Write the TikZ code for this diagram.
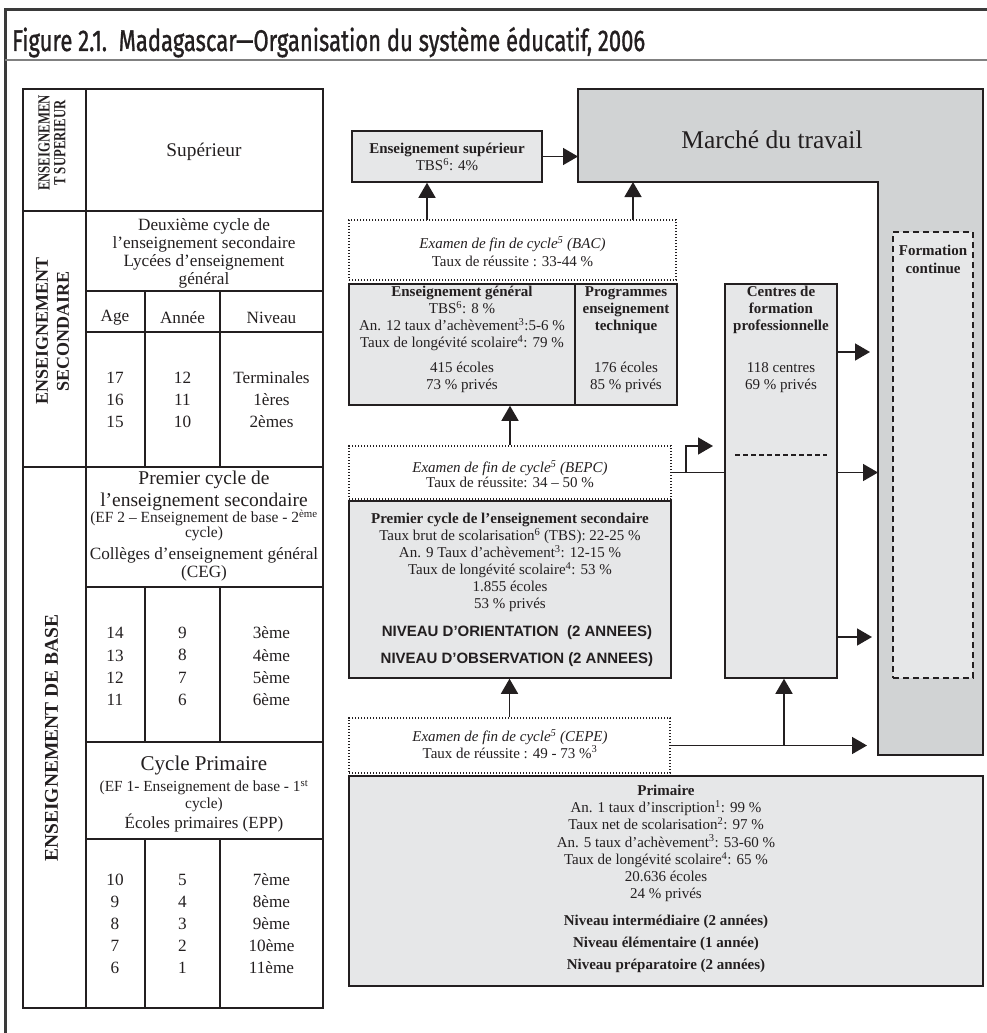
\documentclass[tikz,border=0pt]{standalone}
\usepackage{fontspec}
\setmainfont{Liberation Serif}
\newfontfamily\arialfont{Liberation Sans}
\newfontfamily\titlefont[FakeBold=1.2]{Fira Sans}
\usetikzlibrary{arrows.meta,fit}
\definecolor{lightbox}{HTML}{E6E7E8}
\definecolor{darkbox}{HTML}{D1D3D4}
\definecolor{ink}{HTML}{231F20}
\definecolor{framecol}{HTML}{3A3A3A}
\definecolor{rulecol}{HTML}{808080}
\newcommand{\fsz}[2]{\fontsize{#1pt}{#2pt}\selectfont}
\tikzset{
  tbl/.style={draw=ink, line width=1.3pt},
  sbox/.style={draw=ink, line width=1.5pt, fill=lightbox, inner sep=0pt},
  dotbox/.style={draw=ink, line width=1.4pt, dash pattern=on 1.4pt off 1.6pt, fill=white, inner sep=0pt},
  fcbox/.style={draw=ink, line width=1.5pt, dash pattern=on 6pt off 4pt, fill=lightbox, inner sep=0pt},
  txt/.style={inner sep=0pt, align=center, text=ink},
  arr/.style={draw=ink, line width=1.5pt, -{Triangle[length=15pt,width=17pt]}},
  plain/.style={draw=ink, line width=1.5pt},
}
\begin{document}
\begin{tikzpicture}[x=1pt,y=-1pt]
\useasboundingbox (0,0) rectangle (987,1033);
% frame and title
\draw[framecol, line width=3pt] (5,1040) -- (5,10) -- (995,10);
\draw[rulecol, line width=2.5pt] (5,60) -- (995,60);
\node[anchor=base west, inner sep=0pt, text=ink] (title) at (12,51)
  {\titlefont\fsz{30}{32}\resizebox{633pt}{\height}{Figure 2.1.\ \ Madagascar—Organisation du système éducatif, 2006}};

% ---------------- left table ----------------
\draw[tbl] (23,89) rectangle (323,1008);
\draw[tbl] (86,89) -- (86,1008);
\draw[tbl] (23,211) -- (323,211);
\draw[tbl] (86,291) -- (323,291);
\draw[tbl] (86,332) -- (323,332);
\draw[tbl] (23,467) -- (323,467);
\draw[tbl] (86,587) -- (323,587);
\draw[tbl] (86,742) -- (323,742);
\draw[tbl] (86,839) -- (323,839);
\foreach \x in {145,220} {
  \draw[tbl] (\x,291) -- (\x,467);
  \draw[tbl] (\x,587) -- (\x,742);
  \draw[tbl] (\x,839) -- (\x,1008);
}
\node[txt, rotate=90, font=\bfseries\fsz{17}{15}] (lblsup) at (54,143)
  {\scalebox{0.75}[1]{\begin{tabular}{@{}c@{}}ENSEIGNEMEN\\T SUPERIEUR\end{tabular}}};
\node[txt, rotate=90, font=\bfseries\fsz{18}{21}] (lblsec) at (52.5,331) {ENSEIGNEMENT\\SECONDAIRE};
\node[txt, rotate=90, font=\bfseries\fsz{19.5}{22}] (lblbase) at (51.5,738) {ENSEIGNEMENT DE BASE};

\node[txt, font=\fsz{19.3}{22}] (supt) at (204,152) {Supérieur};
\node[txt, font=\fsz{17.2}{18}] (lyc) at (204,253) {Deuxième cycle de\\l’enseignement secondaire\\Lycées d’enseignement\\général};
\node[txt, font=\fsz{17.2}{18}] (hage) at (115,318) {Age};
\node[txt, font=\fsz{17.2}{18}] (hannee) at (182.5,318) {Année};
\node[txt, font=\fsz{17.2}{18}] (hniv) at (271.5,318) {Niveau};
\node[txt, font=\fsz{17.2}{22}] (a1) at (115,400) {17\\16\\15};
\node[txt, font=\fsz{17.2}{22}] (y1) at (182.5,400) {12\\11\\10};
\node[txt, font=\fsz{17.2}{22}] (n1) at (271.5,400) {Terminales\\1ères\\2èmes};

\node[txt, font=\fsz{19.5}{22}] (pc1) at (204,491) {Premier cycle de\\l’enseignement secondaire};
\node[txt, font=\fsz{15.5}{15}] (pc2) at (204,525.5) {(EF 2 – Enseignement de base - 2\textsuperscript{ème}\\cycle)};
\node[txt, font=\fsz{17.2}{18}] (pc3) at (204,564) {Collèges d’enseignement général\\(CEG)};
\node[txt, font=\fsz{17.2}{22.3}] (a2) at (115,666.5) {14\\13\\12\\11};
\node[txt, font=\fsz{17.2}{22.3}] (y2) at (182.5,666.5) {9\\8\\7\\6};
\node[txt, font=\fsz{17.2}{22.3}] (n2) at (271.5,666.5) {3ème\\4ème\\5ème\\6ème};

\node[txt, font=\fsz{21}{24}] (cp1) at (204,765) {Cycle Primaire};
\node[txt, font=\fsz{15.4}{17}] (cp2) at (204,796.5) {(EF 1- Enseignement de base - 1\textsuperscript{st}\\cycle)};
\node[txt, font=\fsz{17}{18}] (cp3) at (204,823) {Écoles primaires (EPP)};
\node[txt, font=\fsz{17.2}{22}] (a3) at (115,924) {10\\9\\8\\7\\6};
\node[txt, font=\fsz{17.2}{22}] (y3) at (182.5,924) {5\\4\\3\\2\\1};
\node[txt, font=\fsz{17.2}{22}] (n3) at (271.5,924) {7ème\\8ème\\9ème\\10ème\\11ème};

% ---------------- right part ----------------
\draw[draw=ink, line width=1.5pt, fill=darkbox]
  (578,89) coordinate (mNW) -- (983,89) -- (983,755) -- (878,755) coordinate (mColBL)
  -- (878,182) coordinate (mInner) -- (578,182) coordinate (mSW) -- cycle;
\node[txt, font=\fsz{25.5}{28}] (marche) at (772,140) {Marché du travail};
\node[fcbox, fit={(893,232)(973,678)}] (fc) {};
\node[txt, font=\bfseries\fsz{15}{18}] (fct) at (933,259) {Formation\\continue};

\node[sbox, fit={(352,131)(542,182)}] (sup) {};
\node[txt, font=\fsz{15}{15}] (supb) at (447,157) {\textbf{Enseignement supérieur}\\TBS\textsuperscript{6}: 4\%};

\node[dotbox, fit={(349,220)(676,280)}] (bac) {};
\node[txt, font=\fsz{15}{18}] (bact) at (512.5,252) {\textit{Examen de fin de cycle\textsuperscript{5} (BAC)}\\Taux de réussite : 33-44 \%};

\node[sbox, fit={(349,284)(575,405)}] (gen) {};
\node[sbox, fit={(575,284)(677,405)}] (prog) {};
\node[txt, font=\fsz{15}{17}] (gent) at (462,339.5) {\textbf{Enseignement général}\\TBS\textsuperscript{6}: 8 \%\\An. 12 taux d’achèvement\textsuperscript{3}:5-6 \%\\Taux de longévité scolaire\textsuperscript{4}: 79 \%\\[8pt]415 écoles\\73 \% privés};
\node[txt, font=\fsz{15}{17}] (progt) at (626,339.5) {\textbf{Programmes}\\\textbf{enseignement}\\\textbf{technique}\\[25pt]176 écoles\\85 \% privés};

\node[dotbox, fit={(349,446)(671,499)}] (bepc) {};
\node[txt, font=\fsz{15}{15}] (bepct) at (510,474.5) {\textit{Examen de fin de cycle\textsuperscript{5} (BEPC)}\\Taux de réussite: 34 – 50 \%};

\node[sbox, fit={(349,501)(671,678)}] (pc) {};
\node[txt, font=\fsz{15}{17}] (pct) at (510,562.5) {\textbf{Premier cycle de l’enseignement secondaire}\\Taux brut de scolarisation\textsuperscript{6} (TBS): 22-25 \%\\An. 9 Taux d’achèvement\textsuperscript{3}: 12-15 \%\\Taux de longévité scolaire\textsuperscript{4}: 53 \%\\1.855 écoles\\53 \% privés};
\node[txt, font=\arialfont\bfseries\fsz{15}{27}] (pcn) at (517,646.5) {NIVEAU D’ORIENTATION\ \ (2 ANNEES)\\NIVEAU D’OBSERVATION (2 ANNEES)};

\node[sbox, fit={(725,284)(837,678)}] (cfp) {};
\node[txt, font=\fsz{15}{17}] (cfpt) at (781,339.5) {\textbf{Centres de}\\\textbf{formation}\\\textbf{professionnelle}\\[25pt]118 centres\\69 \% privés};
\draw[draw=ink, line width=1.3pt, dash pattern=on 5pt off 3pt] (735,455) -- (827,455);

\node[dotbox, fit={(349,718)(670,773)}] (cepe) {};
\node[txt, font=\fsz{15}{15}] (cepet) at (510,744) {\textit{Examen de fin de cycle\textsuperscript{5} (CEPE)}\\Taux de réussite : 49 - 73 \%\textsuperscript{3}};

\node[sbox, fit={(349,776)(983,986)}] (pri) {};
\node[txt, font=\fsz{15}{17.2}] (prit) at (666,843.5) {\textbf{Primaire}\\An. 1 taux d’inscription\textsuperscript{1}: 99 \%\\Taux net de scolarisation\textsuperscript{2}: 97 \%\\An. 5 taux d’achèvement\textsuperscript{3}: 53-60 \%\\Taux de longévité scolaire\textsuperscript{4}: 65 \%\\20.636 écoles\\24 \% privés};
\node[txt, font=\bfseries\fsz{15}{22}] (prin) at (666,944) {Niveau intermédiaire (2 années)\\Niveau élémentaire (1 année)\\Niveau préparatoire (2 années)};

% ---------------- connectors ----------------
\coordinate (bacA) at (427,220);
\coordinate (bacB) at (633,220);
\coordinate (brA) at (686,473);
\coordinate (brTip) at (713,446);
\coordinate (t1) at (870,352);
\coordinate (t3) at (872,637);
\coordinate (cepeTip) at (867,745.5);
\coordinate (brB) at (784,745.5);

\draw[arr] (sup.east) -- (sup.east -| mNW);
\draw[arr] (bacA) -- (bacA |- sup.south);
\draw[arr] (bacB) -- (bacB |- mSW);
\draw[arr] (bepc.north) -- (bepc.north |- gen.south);
\draw[plain] (bepc.east) -- (bepc.east -| cfp.west);
\draw[arr] (brA) |- (brTip);
\draw[arr] (cfp.east |- t1) -- (t1);
\draw[arr] (cfp.east |- bepc.east) -- (mColBL |- bepc.east);
\draw[arr] (cfp.east |- t3) -- (t3);
\draw[arr] (cepe.north) -- (cepe.north |- pc.south);
\draw[arr] (cepe.east) -- (cepeTip);
\draw[arr] (brB) -- (brB |- cfp.south);
\end{tikzpicture}
\end{document}
